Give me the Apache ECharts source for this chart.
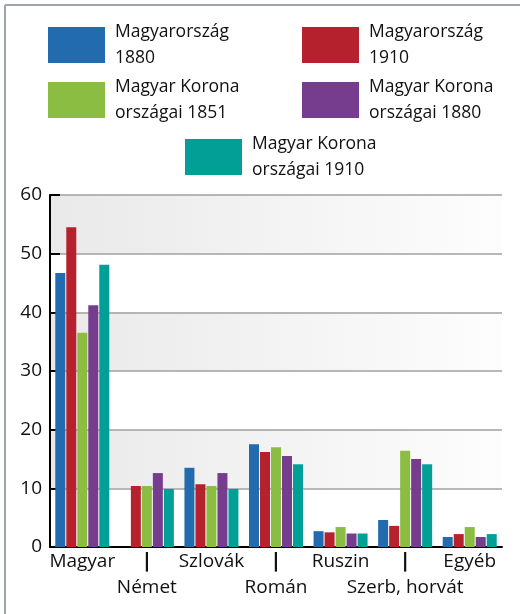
<!DOCTYPE html>
<html>
<head>
<meta charset="utf-8">
<script src="https://cdn.jsdelivr.net/npm/echarts@6/dist/echarts.min.js"></script>
<style>
  html, body { margin: 0; padding: 0; background: #fff; }
  #chart { width: 520px; height: 614px; }
</style>
</head>
<body>
<div id="chart"></div>
<script>
// nemzetiségek aránya (%)
const categories = ['Magyar', 'Német', 'Szlovák', 'Román', 'Ruszin', 'Szerb, horvát', 'Egyéb'];
const seriesNames = [
    'Magyarország\n1880',
    'Magyarország\n1910',
    'Magyar Korona\nországai 1851',
    'Magyar Korona\nországai 1880',
    'Magyar Korona\nországai 1910'
];
const hu1880 = [46.7, null, 13.5, 17.5, 2.7, 4.6, 1.7];
const hu1910 = [54.5, 10.4, 10.7, 16.2, 2.5, 3.6, 2.2];
const kor1851 = [36.5, 10.4, 10.4, 17.0, 3.4, 16.4, 3.4];
const kor1880 = [41.2, 12.6, 12.6, 15.5, 2.3, 15.0, 1.7];
const kor1910 = [48.1, 9.9, 9.9, 14.1, 2.3, 14.1, 2.2];
const yTicks = [0, 10, 20, 30, 40, 50, 60];

const colors = ['#226bae', '#b5222e', '#8abd42', '#763c8e', '#019f95'];
const values = [hu1880, hu1910, kor1851, kor1880, kor1910];

const font = 'Open Sans';
const chart = echarts.init(document.getElementById('chart'));

const legendBase = {
    orient: 'vertical',
    padding: 0,
    itemWidth: 57,
    itemHeight: 36,
    itemGap: 3,
    icon: 'rect',
    selectedMode: false,
    textStyle: {
        fontFamily: font,
        fontSize: 17.5,
        lineHeight: 26,
        color: '#111',
        padding: [0, 0, 0, 5]
    }
};

const band = new echarts.graphic.LinearGradient(0, 0, 1, 0, [
    {offset: 0, color: '#e9e9e9'},
    {offset: 1, color: '#fdfdfd'}
]);

let option = {
    animation: false,
    color: colors,
    legend: [
        Object.assign({}, legendBase, {left: 48, top: 19, data: [seriesNames[0], seriesNames[2]]}),
        Object.assign({}, legendBase, {left: 302, top: 19, data: [seriesNames[1], seriesNames[3]]}),
        Object.assign({}, legendBase, {left: 185, top: 131, data: [seriesNames[4]]})
    ],
    grid: {
        left: 50,
        right: 18,
        top: 195,
        bottom: 67
    },
    xAxis: {
        type: 'category',
        data: categories,
        axisLine: {lineStyle: {color: '#000', width: 2}},
        axisTick: {inside: true, length: 7, lineStyle: {color: '#000', width: 2}},
        axisLabel: {
            interval: 0,
            margin: 2,
            fontFamily: font,
            fontSize: 19,
            lineHeight: 26,
            color: '#111',
            formatter: (v, i) => i % 2 === 1 ? '{bar||}\n' + v : v,
            rich: {
                bar: {fontFamily: 'DejaVu Sans', fontWeight: 'bold', fontSize: 20, lineHeight: 26, color: '#111'}
            }
        }
    },
    yAxis: {
        type: 'value',
        min: 0,
        max: 60,
        interval: 10,
        axisLine: {show: true, lineStyle: {color: '#000', width: 2}},
        axisTick: {show: true, inside: true, length: 10, lineStyle: {color: '#000', width: 2}},
        axisLabel: {
            margin: 8,
            fontFamily: font,
            fontSize: 19,
            color: '#111',
            formatter: v => yTicks.indexOf(v) >= 0 ? String(v) : ''
        },
        splitLine: {lineStyle: {color: '#a0a0a0', width: 1.5}},
        splitArea: {show: true, areaStyle: {color: ['#ffffff', band]}}
    },
    graphic: [
        {type: 'line', shape: {x1: 5, y1: 5, x2: 520, y2: 5}, style: {stroke: '#9ba6ae', lineWidth: 2}},
        {type: 'line', shape: {x1: 5, y1: 5, x2: 5, y2: 614}, style: {stroke: '#9ba6ae', lineWidth: 2}}
    ],
    series: values.map((d, i) => ({
        name: seriesNames[i],
        type: 'bar',
        data: d,
        barWidth: 10,
        barGap: '10%'
    }))
};

chart.setOption(option);
</script>
</body>
</html>
